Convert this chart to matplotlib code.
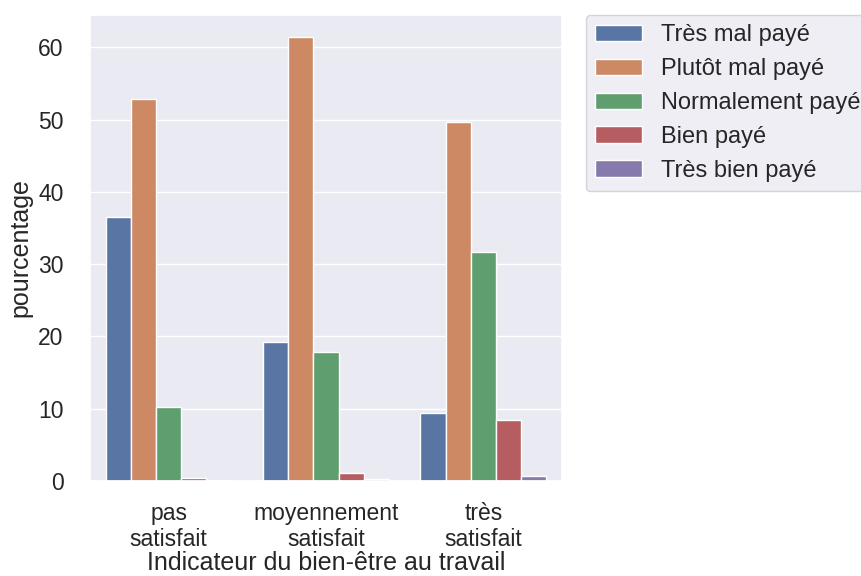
import numpy as np
import pandas as pd
import seaborn as sns
import matplotlib.pyplot as plt

categories = ['pas\nsatisfait', 'moyennement\nsatisfait', 'très\nsatisfait']
salaire = ['Très mal payé', 'Plutôt mal payé', 'Normalement payé', 'Bien payé', 'Très bien payé']

# pourcentage par niveau de satisfaction (une liste par modalité de salaire)
tres_mal = [36.5, 19.2, 9.4]
plutot_mal = [52.8, 61.4, 49.6]
normal = [10.3, 17.8, 31.7]
bien = [0.45, 1.05, 8.5]
tres_bien = [0.0, 0.3, 0.75]

values = [tres_mal, plutot_mal, normal, bien, tres_bien]
df = pd.DataFrame({
    'satisfaction': np.tile(categories, len(salaire)),
    'salaire': np.repeat(salaire, len(categories)),
    'pourcentage': np.concatenate(values),
})

sns.set_theme(style='darkgrid')
plt.rcParams['font.family'] = ['Liberation Sans', 'DejaVu Sans']

fig = plt.figure(figsize=(8.62, 5.76), dpi=100)
ax = fig.add_axes([0.1044, 0.165, 0.5476, 0.809])
sns.barplot(data=df, x='satisfaction', y='pourcentage', hue='salaire',
            order=categories, hue_order=salaire, errorbar=None, ax=ax)
ax.set_xlabel('Indicateur du bien-être au travail', fontsize=18, labelpad=0)
ax.set_ylabel('pourcentage', fontsize=18, labelpad=4)
ax.tick_params(labelsize=16.5)
ax.tick_params(axis='y', pad=13)
ax.tick_params(axis='x', pad=9)
ax.legend(bbox_to_anchor=(1.05, 1), loc=2, borderaxespad=0., fontsize=17)

fig.savefig('out.png', dpi=100)
